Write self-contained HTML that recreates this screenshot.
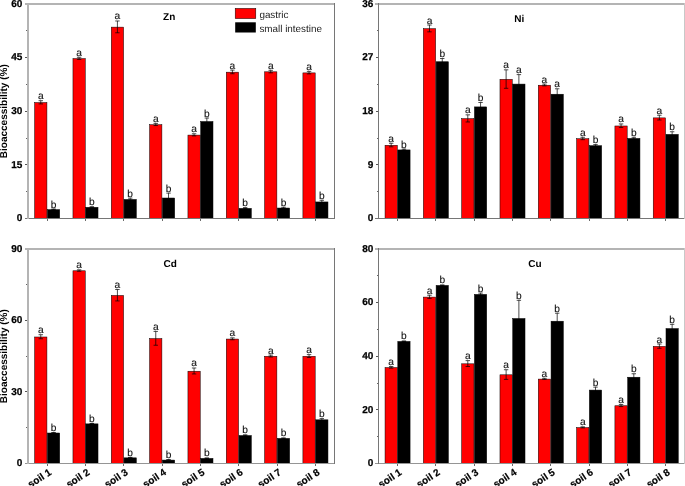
<!DOCTYPE html>
<html><head><meta charset="utf-8"><style>
html,body{margin:0;padding:0;background:#fff;}
body{width:685px;height:486px;overflow:hidden;}
svg{display:block;will-change:transform;}
text{font-family:"Liberation Sans", sans-serif;text-rendering:geometricPrecision;}
.tick{font-weight:bold;font-size:10px;fill:#000;stroke:#000;stroke-width:0.25px;}
.xl{font-weight:bold;font-size:10px;fill:#000;stroke:#000;stroke-width:0.2px;}
.ttl{font-weight:bold;font-size:10px;fill:#000;}
.lab{font-size:10.2px;fill:#111;stroke:#111;stroke-width:0.12px;}
.leg{font-size:9.9px;fill:#222;}
</style></head><body>
<svg width="685" height="486" viewBox="0 0 685 486">

<rect x="34.64" y="102.56" width="12.28" height="115.94" fill="#ff0000" stroke="#000" stroke-width="0.5"/>
<path d="M40.78 100.7V103.92M38.58 100.7H42.98M38.58 103.92H42.98" stroke="#000" stroke-width="0.7" fill="none"/>
<text x="40.78" y="99.2" text-anchor="middle" class="lab">a</text>
<rect x="47.41" y="209.63" width="12.28" height="8.87" fill="#000000" stroke="#000" stroke-width="0.5"/>
<path d="M53.55 209.03V209.74M51.35 209.03H55.75M51.35 209.74H55.75" stroke="#000" stroke-width="0.7" fill="none"/>
<text x="53.55" y="207.53" text-anchor="middle" class="lab">b</text>
<rect x="72.96" y="58.59" width="12.28" height="159.91" fill="#ff0000" stroke="#000" stroke-width="0.5"/>
<path d="M79.1 57.27V59.41M76.9 57.27H81.3M76.9 59.41H81.3" stroke="#000" stroke-width="0.7" fill="none"/>
<text x="79.1" y="55.77" text-anchor="middle" class="lab">a</text>
<rect x="85.74" y="207.31" width="12.28" height="11.19" fill="#000000" stroke="#000" stroke-width="0.5"/>
<path d="M91.88 206.7V207.42M89.68 206.7H94.08M89.68 207.42H94.08" stroke="#000" stroke-width="0.7" fill="none"/>
<text x="91.88" y="205.2" text-anchor="middle" class="lab">b</text>
<rect x="111.29" y="27.13" width="12.28" height="191.37" fill="#ff0000" stroke="#000" stroke-width="0.5"/>
<path d="M117.42 20.98V32.78M115.22 20.98H119.62M115.22 32.78H119.62" stroke="#000" stroke-width="0.7" fill="none"/>
<text x="117.42" y="19.48" text-anchor="middle" class="lab">a</text>
<rect x="124.06" y="199.44" width="12.28" height="19.06" fill="#000000" stroke="#000" stroke-width="0.5"/>
<path d="M130.2 198.12V200.27M128 198.12H132.4M128 200.27H132.4" stroke="#000" stroke-width="0.7" fill="none"/>
<text x="130.2" y="196.62" text-anchor="middle" class="lab">b</text>
<rect x="149.61" y="124.73" width="12.28" height="93.77" fill="#ff0000" stroke="#000" stroke-width="0.5"/>
<path d="M155.75 123.4V125.55M153.55 123.4H157.95M153.55 125.55H157.95" stroke="#000" stroke-width="0.7" fill="none"/>
<text x="155.75" y="121.9" text-anchor="middle" class="lab">a</text>
<rect x="162.39" y="198.01" width="12.28" height="20.49" fill="#000000" stroke="#000" stroke-width="0.5"/>
<path d="M168.53 193.12V202.41M166.33 193.12H170.72M166.33 202.41H170.72" stroke="#000" stroke-width="0.7" fill="none"/>
<text x="168.53" y="191.62" text-anchor="middle" class="lab">b</text>
<rect x="187.94" y="135.09" width="12.28" height="83.41" fill="#ff0000" stroke="#000" stroke-width="0.5"/>
<path d="M194.07 133.77V135.92M191.88 133.77H196.27M191.88 135.92H196.27" stroke="#000" stroke-width="0.7" fill="none"/>
<text x="194.07" y="132.27" text-anchor="middle" class="lab">a</text>
<rect x="200.71" y="121.51" width="12.28" height="96.99" fill="#000000" stroke="#000" stroke-width="0.5"/>
<path d="M206.85 118.04V124.48M204.65 118.04H209.05M204.65 124.48H209.05" stroke="#000" stroke-width="0.7" fill="none"/>
<text x="206.85" y="116.54" text-anchor="middle" class="lab">b</text>
<rect x="226.26" y="72.17" width="12.28" height="146.33" fill="#ff0000" stroke="#000" stroke-width="0.5"/>
<path d="M232.4 70.14V73.71M230.2 70.14H234.6M230.2 73.71H234.6" stroke="#000" stroke-width="0.7" fill="none"/>
<text x="232.4" y="68.64" text-anchor="middle" class="lab">a</text>
<rect x="239.04" y="208.38" width="12.28" height="10.12" fill="#000000" stroke="#000" stroke-width="0.5"/>
<path d="M245.18 207.6V208.67M242.98 207.6H247.38M242.98 208.67H247.38" stroke="#000" stroke-width="0.7" fill="none"/>
<text x="245.18" y="206.1" text-anchor="middle" class="lab">b</text>
<rect x="264.59" y="71.82" width="12.28" height="146.68" fill="#ff0000" stroke="#000" stroke-width="0.5"/>
<path d="M270.73 70.32V72.82M268.53 70.32H272.93M268.53 72.82H272.93" stroke="#000" stroke-width="0.7" fill="none"/>
<text x="270.73" y="68.82" text-anchor="middle" class="lab">a</text>
<rect x="277.36" y="208.03" width="12.28" height="10.47" fill="#000000" stroke="#000" stroke-width="0.5"/>
<path d="M283.5 207.24V208.31M281.3 207.24H285.7M281.3 208.31H285.7" stroke="#000" stroke-width="0.7" fill="none"/>
<text x="283.5" y="205.74" text-anchor="middle" class="lab">b</text>
<rect x="302.91" y="72.89" width="12.28" height="145.61" fill="#ff0000" stroke="#000" stroke-width="0.5"/>
<path d="M309.05 71.39V73.89M306.85 71.39H311.25M306.85 73.89H311.25" stroke="#000" stroke-width="0.7" fill="none"/>
<text x="309.05" y="69.89" text-anchor="middle" class="lab">a</text>
<rect x="315.69" y="201.95" width="12.28" height="16.55" fill="#000000" stroke="#000" stroke-width="0.5"/>
<path d="M321.82 200.27V203.13M319.62 200.27H324.02M319.62 203.13H324.02" stroke="#000" stroke-width="0.7" fill="none"/>
<text x="321.82" y="198.77" text-anchor="middle" class="lab">b</text>
<rect x="25" y="3" width="310" height="2" fill="#b4b4b4"/>
<rect x="25" y="218" width="310" height="1" fill="#767676"/>
<rect x="27" y="3" width="2" height="216" fill="#b4b4b4"/>
<rect x="334" y="3" width="1" height="216" fill="#767676"/>
<text x="22.35" y="221.3" text-anchor="end" class="tick">0</text>
<rect x="26" y="191" width="1" height="1" fill="#666"/>
<rect x="25" y="164" width="2" height="1" fill="#555"/>
<text x="22.35" y="167.68" text-anchor="end" class="tick">15</text>
<rect x="26" y="138" width="1" height="1" fill="#666"/>
<rect x="25" y="111" width="2" height="1" fill="#555"/>
<text x="22.35" y="114.05" text-anchor="end" class="tick">30</text>
<rect x="26" y="84" width="1" height="1" fill="#666"/>
<rect x="25" y="57" width="2" height="1" fill="#555"/>
<text x="22.35" y="60.42" text-anchor="end" class="tick">45</text>
<rect x="26" y="30" width="1" height="1" fill="#666"/>
<text x="22.35" y="6.8" text-anchor="end" class="tick">60</text>
<rect x="47" y="219" width="1" height="2" fill="#6a6a6a"/>
<rect x="85" y="219" width="1" height="2" fill="#6a6a6a"/>
<rect x="123" y="219" width="1" height="2" fill="#6a6a6a"/>
<rect x="162" y="219" width="1" height="2" fill="#6a6a6a"/>
<rect x="200" y="219" width="1" height="2" fill="#6a6a6a"/>
<rect x="238" y="219" width="1" height="2" fill="#6a6a6a"/>
<rect x="277" y="219" width="1" height="2" fill="#6a6a6a"/>
<rect x="315" y="219" width="1" height="2" fill="#6a6a6a"/>
<text x="169.2" y="19.6" text-anchor="middle" class="ttl">Zn</text>
<text transform="translate(7.0 111.25) rotate(-90)" text-anchor="middle" class="ttl">Bioaccessibility (%)</text>
<rect x="385.04" y="145.28" width="12.27" height="73.22" fill="#ff0000" stroke="#000" stroke-width="0.5"/>
<path d="M391.17 143.25V146.82M388.97 143.25H393.37M388.97 146.82H393.37" stroke="#000" stroke-width="0.7" fill="none"/>
<text x="391.17" y="141.75" text-anchor="middle" class="lab">a</text>
<rect x="397.81" y="149.93" width="12.27" height="68.57" fill="#000000" stroke="#000" stroke-width="0.5"/>
<path d="M403.94 149.09V150.28M401.74 149.09H406.14M401.74 150.28H406.14" stroke="#000" stroke-width="0.7" fill="none"/>
<text x="403.94" y="147.59" text-anchor="middle" class="lab">b</text>
<rect x="423.35" y="28.68" width="12.27" height="189.82" fill="#ff0000" stroke="#000" stroke-width="0.5"/>
<path d="M429.48 25.03V31.83M427.28 25.03H431.68M427.28 31.83H431.68" stroke="#000" stroke-width="0.7" fill="none"/>
<text x="429.48" y="23.53" text-anchor="middle" class="lab">a</text>
<rect x="436.12" y="61.75" width="12.27" height="156.75" fill="#000000" stroke="#000" stroke-width="0.5"/>
<path d="M442.25 58.52V64.48M440.05 58.52H444.45M440.05 64.48H444.45" stroke="#000" stroke-width="0.7" fill="none"/>
<text x="442.25" y="57.02" text-anchor="middle" class="lab">b</text>
<rect x="461.66" y="118.65" width="12.27" height="99.85" fill="#ff0000" stroke="#000" stroke-width="0.5"/>
<path d="M467.8 114.83V121.98M465.6 114.83H470M465.6 121.98H470" stroke="#000" stroke-width="0.7" fill="none"/>
<text x="467.8" y="113.33" text-anchor="middle" class="lab">a</text>
<rect x="474.43" y="106.91" width="12.27" height="111.59" fill="#000000" stroke="#000" stroke-width="0.5"/>
<path d="M480.57 102.49V110.83M478.37 102.49H482.77M478.37 110.83H482.77" stroke="#000" stroke-width="0.7" fill="none"/>
<text x="480.57" y="100.99" text-anchor="middle" class="lab">b</text>
<rect x="499.97" y="79.33" width="12.27" height="139.17" fill="#ff0000" stroke="#000" stroke-width="0.5"/>
<path d="M506.11 69.84V88.31M503.91 69.84H508.31M503.91 88.31H508.31" stroke="#000" stroke-width="0.7" fill="none"/>
<text x="506.11" y="68.34" text-anchor="middle" class="lab">a</text>
<rect x="512.74" y="84.09" width="12.27" height="134.41" fill="#000000" stroke="#000" stroke-width="0.5"/>
<path d="M518.88 74.61V93.08M516.68 74.61H521.08M516.68 93.08H521.08" stroke="#000" stroke-width="0.7" fill="none"/>
<text x="518.88" y="73.11" text-anchor="middle" class="lab">a</text>
<rect x="538.29" y="85.22" width="12.27" height="133.28" fill="#ff0000" stroke="#000" stroke-width="0.5"/>
<path d="M544.42 84.08V85.87M542.22 84.08H546.62M542.22 85.87H546.62" stroke="#000" stroke-width="0.7" fill="none"/>
<text x="544.42" y="82.58" text-anchor="middle" class="lab">a</text>
<rect x="551.06" y="94.22" width="12.27" height="124.28" fill="#000000" stroke="#000" stroke-width="0.5"/>
<path d="M557.19 88.79V99.15M554.99 88.79H559.39M554.99 99.15H559.39" stroke="#000" stroke-width="0.7" fill="none"/>
<text x="557.19" y="87.29" text-anchor="middle" class="lab">a</text>
<rect x="576.6" y="138.73" width="12.27" height="79.77" fill="#ff0000" stroke="#000" stroke-width="0.5"/>
<path d="M582.73 137.29V139.67M580.53 137.29H584.93M580.53 139.67H584.93" stroke="#000" stroke-width="0.7" fill="none"/>
<text x="582.73" y="135.79" text-anchor="middle" class="lab">a</text>
<rect x="589.37" y="145.7" width="12.27" height="72.8" fill="#000000" stroke="#000" stroke-width="0.5"/>
<path d="M595.5 144.56V146.34M593.3 144.56H597.7M593.3 146.34H597.7" stroke="#000" stroke-width="0.7" fill="none"/>
<text x="595.5" y="143.06" text-anchor="middle" class="lab">b</text>
<rect x="614.91" y="125.98" width="12.27" height="92.52" fill="#ff0000" stroke="#000" stroke-width="0.5"/>
<path d="M621.05 123.94V127.52M618.85 123.94H623.25M618.85 127.52H623.25" stroke="#000" stroke-width="0.7" fill="none"/>
<text x="621.05" y="122.44" text-anchor="middle" class="lab">a</text>
<rect x="627.68" y="138.43" width="12.27" height="80.07" fill="#000000" stroke="#000" stroke-width="0.5"/>
<path d="M633.82 137.29V139.08M631.62 137.29H636.02M631.62 139.08H636.02" stroke="#000" stroke-width="0.7" fill="none"/>
<text x="633.82" y="135.79" text-anchor="middle" class="lab">b</text>
<rect x="653.22" y="117.88" width="12.27" height="100.62" fill="#ff0000" stroke="#000" stroke-width="0.5"/>
<path d="M659.36 115.24V120.01M657.16 115.24H661.56M657.16 120.01H661.56" stroke="#000" stroke-width="0.7" fill="none"/>
<text x="659.36" y="113.74" text-anchor="middle" class="lab">a</text>
<rect x="665.99" y="134.38" width="12.27" height="84.12" fill="#000000" stroke="#000" stroke-width="0.5"/>
<path d="M672.13 131.75V136.51M669.93 131.75H674.33M669.93 136.51H674.33" stroke="#000" stroke-width="0.7" fill="none"/>
<text x="672.13" y="130.25" text-anchor="middle" class="lab">b</text>
<rect x="375" y="3" width="310" height="2" fill="#b4b4b4"/>
<rect x="375" y="218" width="310" height="1" fill="#767676"/>
<rect x="378" y="3" width="1" height="216" fill="#767676"/>
<rect x="684" y="3" width="1" height="216" fill="#c8c8c8"/>
<text x="373.35" y="221.3" text-anchor="end" class="tick">0</text>
<rect x="377" y="191" width="1" height="1" fill="#666"/>
<rect x="376" y="164" width="2" height="1" fill="#555"/>
<text x="373.35" y="167.68" text-anchor="end" class="tick">9</text>
<rect x="377" y="138" width="1" height="1" fill="#666"/>
<rect x="376" y="111" width="2" height="1" fill="#555"/>
<text x="373.35" y="114.05" text-anchor="end" class="tick">18</text>
<rect x="377" y="84" width="1" height="1" fill="#666"/>
<rect x="376" y="57" width="2" height="1" fill="#555"/>
<text x="373.35" y="60.42" text-anchor="end" class="tick">27</text>
<rect x="377" y="30" width="1" height="1" fill="#666"/>
<text x="373.35" y="6.8" text-anchor="end" class="tick">36</text>
<rect x="397" y="219" width="1" height="2" fill="#6a6a6a"/>
<rect x="435" y="219" width="1" height="2" fill="#6a6a6a"/>
<rect x="474" y="219" width="1" height="2" fill="#6a6a6a"/>
<rect x="512" y="219" width="1" height="2" fill="#6a6a6a"/>
<rect x="550" y="219" width="1" height="2" fill="#6a6a6a"/>
<rect x="589" y="219" width="1" height="2" fill="#6a6a6a"/>
<rect x="627" y="219" width="1" height="2" fill="#6a6a6a"/>
<rect x="665" y="219" width="1" height="2" fill="#6a6a6a"/>
<text x="519.3" y="21.6" text-anchor="middle" class="ttl">Ni</text>
<rect x="34.64" y="336.99" width="12.28" height="126.41" fill="#ff0000" stroke="#000" stroke-width="0.5"/>
<path d="M40.78 334.71V338.76M38.58 334.71H42.98M38.58 338.76H42.98" stroke="#000" stroke-width="0.7" fill="none"/>
<text x="40.78" y="333.21" text-anchor="middle" class="lab">a</text>
<rect x="47.41" y="433.01" width="12.28" height="30.39" fill="#000000" stroke="#000" stroke-width="0.5"/>
<path d="M53.55 432.53V433M51.35 432.53H55.75M51.35 433H55.75" stroke="#000" stroke-width="0.7" fill="none"/>
<text x="53.55" y="431.03" text-anchor="middle" class="lab">b</text>
<rect x="72.96" y="270.79" width="12.28" height="192.61" fill="#ff0000" stroke="#000" stroke-width="0.5"/>
<path d="M79.1 269.82V271.25M76.9 269.82H81.3M76.9 271.25H81.3" stroke="#000" stroke-width="0.7" fill="none"/>
<text x="79.1" y="268.32" text-anchor="middle" class="lab">a</text>
<rect x="85.74" y="423.87" width="12.28" height="39.53" fill="#000000" stroke="#000" stroke-width="0.5"/>
<path d="M91.88 423.38V423.86M89.68 423.38H94.08M89.68 423.86H94.08" stroke="#000" stroke-width="0.7" fill="none"/>
<text x="91.88" y="421.88" text-anchor="middle" class="lab">b</text>
<rect x="111.29" y="295.47" width="12.28" height="167.93" fill="#ff0000" stroke="#000" stroke-width="0.5"/>
<path d="M117.42 289.5V300.93M115.22 289.5H119.62M115.22 300.93H119.62" stroke="#000" stroke-width="0.7" fill="none"/>
<text x="117.42" y="288" text-anchor="middle" class="lab">a</text>
<rect x="124.06" y="457.84" width="12.28" height="5.56" fill="#000000" stroke="#000" stroke-width="0.5"/>
<path d="M130.2 457.35V457.83M128 457.35H132.4M128 457.83H132.4" stroke="#000" stroke-width="0.7" fill="none"/>
<text x="130.2" y="455.85" text-anchor="middle" class="lab">b</text>
<rect x="149.61" y="338.58" width="12.28" height="124.82" fill="#ff0000" stroke="#000" stroke-width="0.5"/>
<path d="M155.75 331.42V345.24M153.55 331.42H157.95M153.55 345.24H157.95" stroke="#000" stroke-width="0.7" fill="none"/>
<text x="155.75" y="329.92" text-anchor="middle" class="lab">a</text>
<rect x="162.39" y="460.08" width="12.28" height="3.32" fill="#000000" stroke="#000" stroke-width="0.5"/>
<path d="M168.53 459.59V460.06M166.33 459.59H170.72M166.33 460.06H170.72" stroke="#000" stroke-width="0.7" fill="none"/>
<text x="168.53" y="458.09" text-anchor="middle" class="lab">b</text>
<rect x="187.94" y="371.22" width="12.28" height="92.18" fill="#ff0000" stroke="#000" stroke-width="0.5"/>
<path d="M194.07 367.99V373.95M191.88 367.99H196.27M191.88 373.95H196.27" stroke="#000" stroke-width="0.7" fill="none"/>
<text x="194.07" y="366.49" text-anchor="middle" class="lab">a</text>
<rect x="200.71" y="458.41" width="12.28" height="4.99" fill="#000000" stroke="#000" stroke-width="0.5"/>
<path d="M206.85 457.92V458.4M204.65 457.92H209.05M204.65 458.4H209.05" stroke="#000" stroke-width="0.7" fill="none"/>
<text x="206.85" y="456.42" text-anchor="middle" class="lab">b</text>
<rect x="226.26" y="339.06" width="12.28" height="124.34" fill="#ff0000" stroke="#000" stroke-width="0.5"/>
<path d="M232.4 337.86V339.76M230.2 337.86H234.6M230.2 339.76H234.6" stroke="#000" stroke-width="0.7" fill="none"/>
<text x="232.4" y="336.36" text-anchor="middle" class="lab">a</text>
<rect x="239.04" y="435.54" width="12.28" height="27.86" fill="#000000" stroke="#000" stroke-width="0.5"/>
<path d="M245.18 434.81V435.77M242.98 434.81H247.38M242.98 435.77H247.38" stroke="#000" stroke-width="0.7" fill="none"/>
<text x="245.18" y="433.31" text-anchor="middle" class="lab">b</text>
<rect x="264.59" y="356.31" width="12.28" height="107.09" fill="#ff0000" stroke="#000" stroke-width="0.5"/>
<path d="M270.73 355.1V357.01M268.53 355.1H272.93M268.53 357.01H272.93" stroke="#000" stroke-width="0.7" fill="none"/>
<text x="270.73" y="353.6" text-anchor="middle" class="lab">a</text>
<rect x="277.36" y="438.4" width="12.28" height="25" fill="#000000" stroke="#000" stroke-width="0.5"/>
<path d="M283.5 437.91V438.39M281.3 437.91H285.7M281.3 438.39H285.7" stroke="#000" stroke-width="0.7" fill="none"/>
<text x="283.5" y="436.41" text-anchor="middle" class="lab">b</text>
<rect x="302.91" y="356.31" width="12.28" height="107.09" fill="#ff0000" stroke="#000" stroke-width="0.5"/>
<path d="M309.05 354.63V357.49M306.85 354.63H311.25M306.85 357.49H311.25" stroke="#000" stroke-width="0.7" fill="none"/>
<text x="309.05" y="353.13" text-anchor="middle" class="lab">a</text>
<rect x="315.69" y="419.82" width="12.28" height="43.58" fill="#000000" stroke="#000" stroke-width="0.5"/>
<path d="M321.82 418.61V420.52M319.62 418.61H324.02M319.62 420.52H324.02" stroke="#000" stroke-width="0.7" fill="none"/>
<text x="321.82" y="417.11" text-anchor="middle" class="lab">b</text>
<rect x="25" y="248" width="310" height="2" fill="#b4b4b4"/>
<rect x="25" y="463" width="310" height="1" fill="#959595"/>
<rect x="27" y="248" width="2" height="216" fill="#b4b4b4"/>
<rect x="334" y="248" width="1" height="216" fill="#767676"/>
<text x="22.35" y="466.2" text-anchor="end" class="tick">0</text>
<rect x="26" y="427" width="1" height="1" fill="#666"/>
<rect x="25" y="391" width="2" height="1" fill="#555"/>
<text x="22.35" y="394.73" text-anchor="end" class="tick">30</text>
<rect x="26" y="356" width="1" height="1" fill="#666"/>
<rect x="25" y="320" width="2" height="1" fill="#555"/>
<text x="22.35" y="323.27" text-anchor="end" class="tick">60</text>
<rect x="26" y="284" width="1" height="1" fill="#666"/>
<text x="22.35" y="251.8" text-anchor="end" class="tick">90</text>
<rect x="47" y="464" width="1" height="2" fill="#6a6a6a"/>
<text transform="translate(52.06 474) rotate(-33)" text-anchor="end" class="xl">soil 1</text>
<rect x="85" y="464" width="1" height="2" fill="#6a6a6a"/>
<text transform="translate(90.39 474) rotate(-33)" text-anchor="end" class="xl">soil 2</text>
<rect x="123" y="464" width="1" height="2" fill="#6a6a6a"/>
<text transform="translate(128.71 474) rotate(-33)" text-anchor="end" class="xl">soil 3</text>
<rect x="162" y="464" width="1" height="2" fill="#6a6a6a"/>
<text transform="translate(167.04 474) rotate(-33)" text-anchor="end" class="xl">soil 4</text>
<rect x="200" y="464" width="1" height="2" fill="#6a6a6a"/>
<text transform="translate(205.36 474) rotate(-33)" text-anchor="end" class="xl">soil 5</text>
<rect x="238" y="464" width="1" height="2" fill="#6a6a6a"/>
<text transform="translate(243.69 474) rotate(-33)" text-anchor="end" class="xl">soil 6</text>
<rect x="277" y="464" width="1" height="2" fill="#6a6a6a"/>
<text transform="translate(282.01 474) rotate(-33)" text-anchor="end" class="xl">soil 7</text>
<rect x="315" y="464" width="1" height="2" fill="#6a6a6a"/>
<text transform="translate(320.34 474) rotate(-33)" text-anchor="end" class="xl">soil 8</text>
<text x="170.2" y="266.6" text-anchor="middle" class="ttl">Cd</text>
<text transform="translate(7.0 356.2) rotate(-90)" text-anchor="middle" class="ttl">Bioaccessibility (%)</text>
<rect x="385.04" y="367.57" width="12.27" height="95.83" fill="#ff0000" stroke="#000" stroke-width="0.5"/>
<path d="M391.17 366.52V368.13M388.97 366.52H393.37M388.97 368.13H393.37" stroke="#000" stroke-width="0.7" fill="none"/>
<text x="391.17" y="365.02" text-anchor="middle" class="lab">a</text>
<rect x="397.81" y="341.44" width="12.27" height="121.96" fill="#000000" stroke="#000" stroke-width="0.5"/>
<path d="M403.94 340.92V341.46M401.74 340.92H406.14M401.74 341.46H406.14" stroke="#000" stroke-width="0.7" fill="none"/>
<text x="403.94" y="339.42" text-anchor="middle" class="lab">b</text>
<rect x="423.35" y="297.09" width="12.27" height="166.31" fill="#ff0000" stroke="#000" stroke-width="0.5"/>
<path d="M429.48 295.23V298.45M427.28 295.23H431.68M427.28 298.45H431.68" stroke="#000" stroke-width="0.7" fill="none"/>
<text x="429.48" y="293.73" text-anchor="middle" class="lab">a</text>
<rect x="436.12" y="285.43" width="12.27" height="177.97" fill="#000000" stroke="#000" stroke-width="0.5"/>
<path d="M442.25 284.91V285.45M440.05 284.91H444.45M440.05 285.45H444.45" stroke="#000" stroke-width="0.7" fill="none"/>
<text x="442.25" y="283.41" text-anchor="middle" class="lab">b</text>
<rect x="461.66" y="363.82" width="12.27" height="99.58" fill="#ff0000" stroke="#000" stroke-width="0.5"/>
<path d="M467.8 360.62V366.52M465.6 360.62H470M465.6 366.52H470" stroke="#000" stroke-width="0.7" fill="none"/>
<text x="467.8" y="359.12" text-anchor="middle" class="lab">a</text>
<rect x="474.43" y="294.41" width="12.27" height="168.99" fill="#000000" stroke="#000" stroke-width="0.5"/>
<path d="M480.57 293.09V295.23M478.37 293.09H482.77M478.37 295.23H482.77" stroke="#000" stroke-width="0.7" fill="none"/>
<text x="480.57" y="291.59" text-anchor="middle" class="lab">b</text>
<rect x="499.97" y="374.81" width="12.27" height="88.59" fill="#ff0000" stroke="#000" stroke-width="0.5"/>
<path d="M506.11 369.73V379.38M503.91 369.73H508.31M503.91 379.38H508.31" stroke="#000" stroke-width="0.7" fill="none"/>
<text x="506.11" y="368.23" text-anchor="middle" class="lab">a</text>
<rect x="512.74" y="318.53" width="12.27" height="144.87" fill="#000000" stroke="#000" stroke-width="0.5"/>
<path d="M518.88 300.32V336.23M516.68 300.32H521.08M516.68 336.23H521.08" stroke="#000" stroke-width="0.7" fill="none"/>
<text x="518.88" y="298.82" text-anchor="middle" class="lab">b</text>
<rect x="538.29" y="379.1" width="12.27" height="84.3" fill="#ff0000" stroke="#000" stroke-width="0.5"/>
<path d="M544.42 378.31V379.38M542.22 378.31H546.62M542.22 379.38H546.62" stroke="#000" stroke-width="0.7" fill="none"/>
<text x="544.42" y="376.81" text-anchor="middle" class="lab">a</text>
<rect x="551.06" y="321.21" width="12.27" height="142.19" fill="#000000" stroke="#000" stroke-width="0.5"/>
<path d="M557.19 313.19V328.73M554.99 313.19H559.39M554.99 328.73H559.39" stroke="#000" stroke-width="0.7" fill="none"/>
<text x="557.19" y="311.69" text-anchor="middle" class="lab">b</text>
<rect x="576.6" y="427.6" width="12.27" height="35.8" fill="#ff0000" stroke="#000" stroke-width="0.5"/>
<path d="M582.73 426.82V427.89M580.53 426.82H584.93M580.53 427.89H584.93" stroke="#000" stroke-width="0.7" fill="none"/>
<text x="582.73" y="425.32" text-anchor="middle" class="lab">a</text>
<rect x="589.37" y="390.08" width="12.27" height="73.32" fill="#000000" stroke="#000" stroke-width="0.5"/>
<path d="M595.5 387.15V392.51M593.3 387.15H597.7M593.3 392.51H597.7" stroke="#000" stroke-width="0.7" fill="none"/>
<text x="595.5" y="385.65" text-anchor="middle" class="lab">b</text>
<rect x="614.91" y="405.76" width="12.27" height="57.64" fill="#ff0000" stroke="#000" stroke-width="0.5"/>
<path d="M621.05 404.44V406.58M618.85 404.44H623.25M618.85 406.58H623.25" stroke="#000" stroke-width="0.7" fill="none"/>
<text x="621.05" y="402.94" text-anchor="middle" class="lab">a</text>
<rect x="627.68" y="377.22" width="12.27" height="86.18" fill="#000000" stroke="#000" stroke-width="0.5"/>
<path d="M633.82 373.75V380.19M631.62 373.75H636.02M631.62 380.19H636.02" stroke="#000" stroke-width="0.7" fill="none"/>
<text x="633.82" y="372.25" text-anchor="middle" class="lab">b</text>
<rect x="653.22" y="346.4" width="12.27" height="117" fill="#ff0000" stroke="#000" stroke-width="0.5"/>
<path d="M659.36 344.01V348.29M657.16 344.01H661.56M657.16 348.29H661.56" stroke="#000" stroke-width="0.7" fill="none"/>
<text x="659.36" y="342.51" text-anchor="middle" class="lab">a</text>
<rect x="665.99" y="328.58" width="12.27" height="134.82" fill="#000000" stroke="#000" stroke-width="0.5"/>
<path d="M672.13 324.31V332.35M669.93 324.31H674.33M669.93 332.35H674.33" stroke="#000" stroke-width="0.7" fill="none"/>
<text x="672.13" y="322.81" text-anchor="middle" class="lab">b</text>
<rect x="375" y="248" width="310" height="2" fill="#b4b4b4"/>
<rect x="375" y="463" width="310" height="1" fill="#959595"/>
<rect x="378" y="248" width="1" height="216" fill="#767676"/>
<rect x="684" y="248" width="1" height="216" fill="#c8c8c8"/>
<text x="373.35" y="466.2" text-anchor="end" class="tick">0</text>
<rect x="377" y="436" width="1" height="1" fill="#666"/>
<rect x="376" y="409" width="2" height="1" fill="#555"/>
<text x="373.35" y="412.6" text-anchor="end" class="tick">20</text>
<rect x="377" y="383" width="1" height="1" fill="#666"/>
<rect x="376" y="356" width="2" height="1" fill="#555"/>
<text x="373.35" y="359" text-anchor="end" class="tick">40</text>
<rect x="377" y="329" width="1" height="1" fill="#666"/>
<rect x="376" y="302" width="2" height="1" fill="#555"/>
<text x="373.35" y="305.4" text-anchor="end" class="tick">60</text>
<rect x="377" y="275" width="1" height="1" fill="#666"/>
<text x="373.35" y="251.8" text-anchor="end" class="tick">80</text>
<rect x="397" y="464" width="1" height="2" fill="#6a6a6a"/>
<text transform="translate(402.46 474) rotate(-33)" text-anchor="end" class="xl">soil 1</text>
<rect x="435" y="464" width="1" height="2" fill="#6a6a6a"/>
<text transform="translate(440.77 474) rotate(-33)" text-anchor="end" class="xl">soil 2</text>
<rect x="474" y="464" width="1" height="2" fill="#6a6a6a"/>
<text transform="translate(479.08 474) rotate(-33)" text-anchor="end" class="xl">soil 3</text>
<rect x="512" y="464" width="1" height="2" fill="#6a6a6a"/>
<text transform="translate(517.39 474) rotate(-33)" text-anchor="end" class="xl">soil 4</text>
<rect x="550" y="464" width="1" height="2" fill="#6a6a6a"/>
<text transform="translate(555.71 474) rotate(-33)" text-anchor="end" class="xl">soil 5</text>
<rect x="589" y="464" width="1" height="2" fill="#6a6a6a"/>
<text transform="translate(594.02 474) rotate(-33)" text-anchor="end" class="xl">soil 6</text>
<rect x="627" y="464" width="1" height="2" fill="#6a6a6a"/>
<text transform="translate(632.33 474) rotate(-33)" text-anchor="end" class="xl">soil 7</text>
<rect x="665" y="464" width="1" height="2" fill="#6a6a6a"/>
<text transform="translate(670.64 474) rotate(-33)" text-anchor="end" class="xl">soil 8</text>
<text x="535" y="266.6" text-anchor="middle" class="ttl">Cu</text>
<rect x="235.2" y="8.4" width="20.6" height="10.2" fill="#ff0000" stroke="#000" stroke-width="0.5"/>
<rect x="235.2" y="22.3" width="20.6" height="10.2" fill="#000000"/>
<text x="259.4" y="17.8" class="leg">gastric</text>
<text x="259.4" y="31.7" class="leg">small intestine</text>
</svg>
</body></html>
